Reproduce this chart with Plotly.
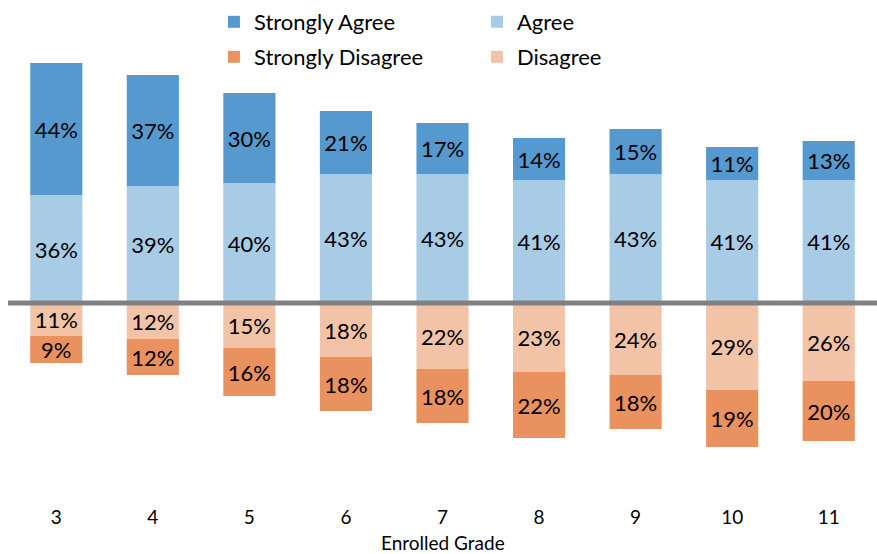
import plotly.graph_objects as go

grades = ["3", "4", "5", "6", "7", "8", "9", "10", "11"]
strongly_agree = [44, 37, 30, 21, 17, 14, 15, 11, 13]
agree = [36, 39, 40, 43, 43, 41, 43, 41, 41]
disagree = [11, 12, 15, 18, 22, 23, 24, 29, 26]
strongly_disagree = [9, 12, 16, 18, 18, 22, 18, 19, 20]

colors = {
    "Strongly Agree": "#5599CF",
    "Agree": "#A8CBE6",
    "Strongly Disagree": "#E9925F",
    "Disagree": "#F3C3A8",
}

FONT = "Lato, Liberation Sans Narrow, Arial"
SIZE = 22
AXIS_SIZE = 19

fig = go.Figure()


def add_series(name, vals, sign, legend, rank):
    fig.add_trace(go.Bar(
        x=grades,
        y=[sign * v for v in vals],
        name=name,
        marker=dict(color=colors[name], line=dict(width=0)),
        text=[f"{v}%" for v in vals],
        textposition="inside",
        insidetextanchor="middle",
        textangle=0,
        constraintext="none",
        textfont=dict(family=FONT, size=SIZE, color="black"),
        legend=legend,
        legendrank=rank,
    ))


# stacking order: values nearest the zero line first
add_series("Agree", agree, 1, "legend", 2)
add_series("Strongly Agree", strongly_agree, 1, "legend", 1)
add_series("Disagree", disagree, -1, "legend2", 2)
add_series("Strongly Disagree", strongly_disagree, -1, "legend2", 1)

fig.add_shape(type="line", xref="paper", yref="y", x0=0, x1=1, y0=0, y1=0,
              line=dict(color="#808080", width=5))

# axis title placed just under the tick labels
fig.add_annotation(text="Enrolled Grade", xref="paper", yref="paper", x=0.5, y=0,
                   xanchor="center", yanchor="top", yshift=-27, showarrow=False,
                   font=dict(family=FONT, size=AXIS_SIZE, color="black"))

PLOT_H = 502
legend_common = dict(
    orientation="h", xref="paper", yref="paper", xanchor="left", yanchor="middle",
    entrywidth=218, entrywidthmode="pixels", font=dict(family=FONT, size=SIZE, color="black"),
    bgcolor="rgba(0,0,0,0)", itemsizing="constant", traceorder="normal",
)

fig.update_layout(
    width=877, height=554,
    margin=dict(l=8, r=0, t=0, b=554 - PLOT_H),
    barmode="relative",
    bargap=0.46,
    plot_bgcolor="white",
    paper_bgcolor="white",
    font=dict(family=FONT, size=SIZE, color="black"),
    showlegend=True,
    legend=dict(x=0.237, y=(PLOT_H - 22) / PLOT_H, **legend_common),
    legend2=dict(x=0.237, y=(PLOT_H - 57) / PLOT_H, **legend_common),
    xaxis=dict(
        type="category", showgrid=False, zeroline=False, showline=False, ticks="",
        tickfont=dict(family=FONT, size=AXIS_SIZE, color="black"),
        ticklabelstandoff=2,
    ),
    yaxis=dict(range=[-66.3, 101], visible=False, showgrid=False, zeroline=False),
)

fig.write_html("out.html")
